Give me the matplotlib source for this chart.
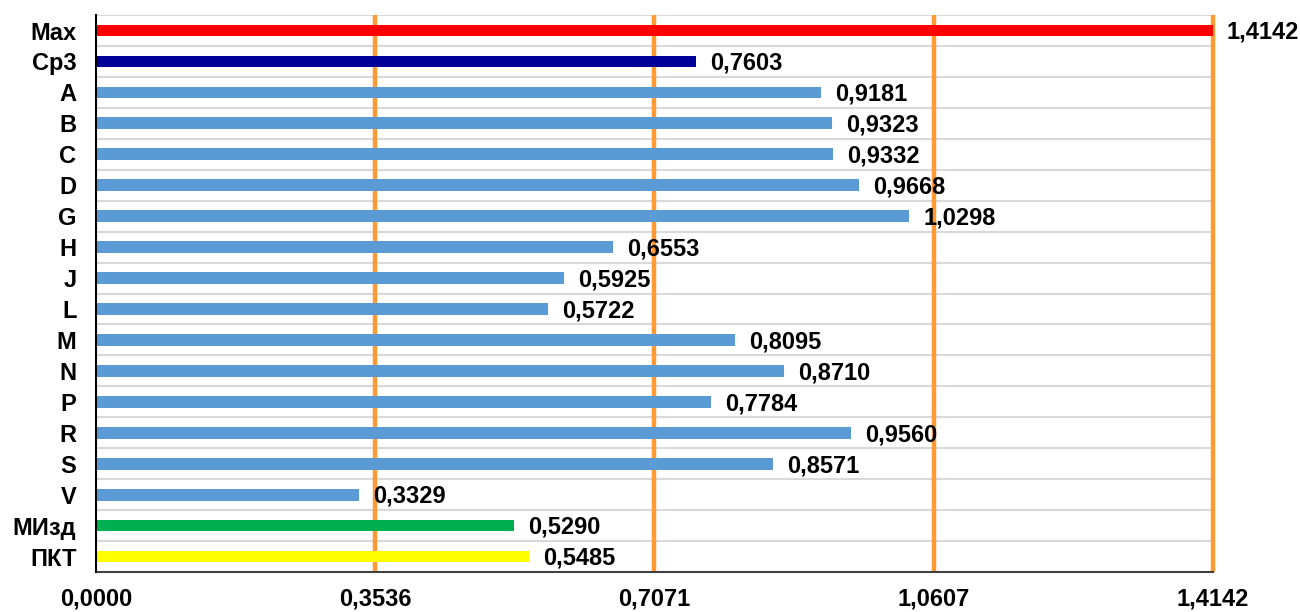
import matplotlib
matplotlib.use("Agg")
import matplotlib.pyplot as plt

plt.rcParams['font.family'] = ['Liberation Sans', 'DejaVu Sans']

categories = ["Max", "Ср3", "A", "B", "C", "D", "G", "H", "J", "L",
              "M", "N", "P", "R", "S", "V", "МИзд", "ПКТ"]
values = [1.4142, 0.7603, 0.9181, 0.9323, 0.9332, 0.9668, 1.0298, 0.6553,
          0.5925, 0.5722, 0.8095, 0.8710, 0.7784, 0.9560, 0.8571, 0.3329,
          0.5290, 0.5485]
ticks = [0.0, 0.3536, 0.7071, 1.0607, 1.4142]

blue = "#5B9BD5"
colors = ["#FF0000", "#000099"] + [blue] * 14 + ["#00B050", "#FFFF00"]

FS = 17

fig = plt.figure(figsize=(13, 6.12), dpi=100)
ax = fig.add_axes([0.0738, 0.0654, 0.859, 0.910])

ypos = list(range(len(categories)))
ax.barh(ypos, values, height=0.38, color=colors, zorder=3)

# light separators between categories
for k in range(len(categories)):
    ax.axhline(k - 0.5, color="#D9D9D9", linewidth=1.5, zorder=1)

# orange reference lines at the tick positions
for t in ticks[1:]:
    ax.axvline(t, color="#FF9933", linewidth=3.2, zorder=2, clip_on=False,
               solid_capstyle="butt")

for y, v in zip(ypos, values):
    ax.text(v + 0.018, y + 0.06, f"{v:.4f}".replace(".", ","), va="center",
            ha="left", fontsize=FS, fontweight="bold", color="black", zorder=4)

ax.set_xlim(0, 1.4142)
ax.set_ylim(len(categories) - 0.5, -0.5)
ax.set_yticks(ypos)
ax.set_yticklabels(categories, fontsize=FS, fontweight="bold")
ax.set_xticks(ticks)
ax.set_xticklabels([f"{t:.4f}".replace(".", ",") for t in ticks],
                   fontsize=FS, fontweight="bold")
ax.tick_params(axis="both", length=0)
ax.tick_params(axis="x", pad=11)
ax.tick_params(axis="y", pad=14)

for s in ["top", "right"]:
    ax.spines[s].set_visible(False)
ax.spines["left"].set_color("black")
ax.spines["left"].set_linewidth(1.5)
ax.spines["bottom"].set_color("#404040")
ax.spines["bottom"].set_linewidth(1.5)
ax.spines["left"].set_zorder(5)

fig.savefig("out.png", dpi=100, facecolor="white")
